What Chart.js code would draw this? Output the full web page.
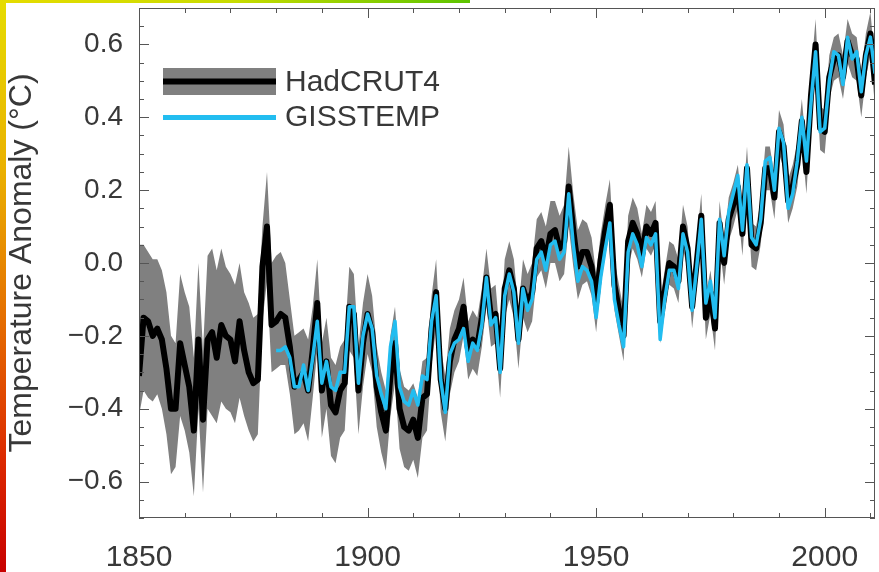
<!DOCTYPE html>
<html>
<head>
<meta charset="utf-8">
<script src="https://cdn.jsdelivr.net/npm/chart.js@4.4.1/dist/chart.umd.min.js"></script>
<style>
  html, body { margin: 0; padding: 0; background: #fff; }
  canvas { display: block; filter: blur(0.5px); }
</style>
</head>
<body>
<canvas id="chart" width="879" height="572"></canvas>
<script>
// annual global temperature anomalies
const firstYear = 1850;
const gissFirstYear = 1880;

const hadcrut = [
  -0.31, -0.15, -0.16, -0.20, -0.18, -0.21, -0.29, -0.40, -0.40, -0.22, // 1850
  -0.28, -0.34, -0.46, -0.21, -0.43, -0.21, -0.19, -0.26, -0.17, -0.20, // 1860
  -0.21, -0.27, -0.16, -0.24, -0.30, -0.33, -0.32, -0.01,  0.10, -0.17, // 1870
  -0.16, -0.14, -0.15, -0.23, -0.34, -0.32, -0.30, -0.35, -0.24, -0.11, // 1880
  -0.35, -0.27, -0.39, -0.41, -0.35, -0.33, -0.12, -0.14, -0.35, -0.22, // 1890
  -0.14, -0.19, -0.34, -0.41, -0.46, -0.31, -0.22, -0.40, -0.45, -0.46, // 1900
  -0.43, -0.48, -0.37, -0.36, -0.18, -0.08, -0.32, -0.40, -0.27, -0.21, // 1910
  -0.18, -0.12, -0.24, -0.21, -0.23, -0.15, -0.04, -0.15, -0.14, -0.29, // 1920
  -0.07, -0.02, -0.07, -0.21, -0.07, -0.11, -0.08,  0.04,  0.06,  0.01, // 1930
   0.08,  0.09,  0.04,  0.06,  0.21,  0.09, -0.01,  0.03,  0.03, -0.01, // 1940
  -0.11,  0.01,  0.09,  0.16, -0.06, -0.13, -0.20,  0.06,  0.11,  0.08, // 1950
   0.02,  0.10,  0.08,  0.11, -0.16, -0.08,  0.00, -0.01, -0.05,  0.10, // 1960
   0.04, -0.12,  0.00,  0.13, -0.15, -0.08, -0.18,  0.11,  0.00,  0.12, // 1970
   0.16,  0.21,  0.08,  0.26,  0.05,  0.04,  0.11,  0.26,  0.26,  0.18, // 1980
   0.36,  0.32,  0.17,  0.21,  0.27,  0.39,  0.25,  0.46,  0.60,  0.37, // 1990
   0.36,  0.51,  0.56,  0.57,  0.51,  0.61,  0.57,  0.56,  0.46,  0.57, // 2000
   0.63,  0.49                                                          // 2010
];

const hadcrutUpper = [
   0.05,  0.05,  0.03,  0.01,  0.01, -0.02, -0.08, -0.20, -0.22, -0.03,
  -0.08, -0.12, -0.26,  0.00, -0.24,  0.02,  0.04, -0.02,  0.04, -0.01,
  -0.03, -0.06,  0.00, -0.08, -0.11, -0.15, -0.14,  0.10,  0.25,  0.00,
   0.02,  0.03,  0.00, -0.10, -0.20, -0.19, -0.18, -0.21, -0.12,  0.01,
  -0.22, -0.15, -0.26, -0.28, -0.23, -0.21, -0.01, -0.03, -0.23, -0.11,
  -0.03, -0.09, -0.23, -0.30, -0.35, -0.20, -0.12, -0.29, -0.34, -0.35,
  -0.33, -0.37, -0.27, -0.26, -0.09,  0.01, -0.23, -0.31, -0.18, -0.13,
  -0.10, -0.04, -0.16, -0.13, -0.15, -0.07,  0.04, -0.07, -0.06, -0.21,
   0.01,  0.06,  0.01, -0.13,  0.01, -0.03,  0.00,  0.12,  0.14,  0.10,
   0.17,  0.17,  0.13,  0.16,  0.32,  0.19,  0.09,  0.12,  0.11,  0.07,
  -0.03,  0.08,  0.16,  0.23,  0.01, -0.06, -0.13,  0.13,  0.18,  0.15,
   0.08,  0.16,  0.14,  0.17, -0.10, -0.02,  0.06,  0.05,  0.01,  0.16,
   0.10, -0.06,  0.06,  0.19, -0.09, -0.02, -0.12,  0.17,  0.06,  0.18,
   0.22,  0.27,  0.14,  0.32,  0.11,  0.10,  0.17,  0.32,  0.32,  0.24,
   0.42,  0.38,  0.23,  0.27,  0.33,  0.45,  0.31,  0.52,  0.67,  0.43,
   0.42,  0.57,  0.62,  0.63,  0.57,  0.67,  0.63,  0.62,  0.52,  0.63,
   0.69,  0.55
];

const hadcrutLower = [
  -0.42, -0.35, -0.37, -0.38, -0.36, -0.40, -0.47, -0.58, -0.56, -0.42,
  -0.46, -0.52, -0.64, -0.40, -0.63, -0.40, -0.42, -0.44, -0.38, -0.40,
  -0.41, -0.44, -0.37, -0.42, -0.46, -0.49, -0.47, -0.16, -0.05, -0.30,
  -0.29, -0.28, -0.28, -0.36, -0.47, -0.46, -0.44, -0.49, -0.37, -0.24,
  -0.48, -0.40, -0.53, -0.55, -0.48, -0.46, -0.24, -0.26, -0.47, -0.34,
  -0.25, -0.30, -0.45, -0.52, -0.57, -0.42, -0.33, -0.51, -0.56, -0.57,
  -0.54, -0.59, -0.48, -0.46, -0.28, -0.18, -0.41, -0.49, -0.36, -0.30,
  -0.27, -0.20, -0.32, -0.29, -0.31, -0.23, -0.12, -0.23, -0.22, -0.37,
  -0.15, -0.10, -0.15, -0.29, -0.15, -0.19, -0.16, -0.04, -0.02, -0.07,
   0.00,  0.00, -0.05, -0.03,  0.10, -0.01, -0.10, -0.06, -0.05, -0.09,
  -0.19, -0.06,  0.02,  0.09, -0.13, -0.20, -0.27, -0.01,  0.04,  0.01,
  -0.04,  0.04,  0.02,  0.05, -0.22, -0.14, -0.06, -0.07, -0.11,  0.04,
  -0.02, -0.18, -0.06,  0.07, -0.21, -0.14, -0.24,  0.05, -0.06,  0.06,
   0.10,  0.15,  0.02,  0.20, -0.01, -0.02,  0.05,  0.20,  0.20,  0.12,
   0.30,  0.26,  0.11,  0.15,  0.21,  0.33,  0.19,  0.40,  0.54,  0.31,
   0.30,  0.45,  0.50,  0.51,  0.45,  0.55,  0.51,  0.50,  0.40,  0.51,
   0.57,  0.43
];

const gisstemp = [
  -0.24, -0.24, -0.23, -0.26, -0.34, -0.34, -0.28, -0.35, -0.26, -0.16, // 1880
  -0.33, -0.27, -0.34, -0.35, -0.30, -0.30, -0.12, -0.12, -0.33, -0.20, // 1890
  -0.14, -0.18, -0.31, -0.36, -0.40, -0.23, -0.16, -0.34, -0.38, -0.39, // 1900
  -0.35, -0.39, -0.31, -0.32, -0.16, -0.09, -0.32, -0.41, -0.25, -0.22, // 1910
  -0.21, -0.18, -0.27, -0.22, -0.24, -0.17, -0.04, -0.17, -0.15, -0.30, // 1920
  -0.09, -0.03, -0.08, -0.22, -0.07, -0.13, -0.10,  0.01,  0.03, -0.02, // 1930
   0.05,  0.06,  0.01,  0.03,  0.19,  0.05, -0.05, -0.01, -0.02, -0.05, // 1940
  -0.15, -0.04,  0.04,  0.11, -0.10, -0.17, -0.23,  0.03,  0.08,  0.05, // 1950
  -0.01,  0.07,  0.05,  0.08, -0.21, -0.10, -0.02, -0.02, -0.07,  0.08, // 1960
   0.03, -0.13, -0.01,  0.12, -0.11, -0.05, -0.15,  0.12,  0.02,  0.14, // 1970
   0.19,  0.24,  0.09,  0.27,  0.07,  0.05,  0.12,  0.28,  0.29,  0.20, // 1980
   0.37,  0.33,  0.15,  0.19,  0.28,  0.40,  0.28,  0.44,  0.58,  0.36, // 1990
   0.37,  0.50,  0.58,  0.57,  0.49,  0.62,  0.56,  0.58,  0.47,  0.57, // 2000
   0.62,  0.52                                                          // 2010
];

const xTickLabels = [1850, 1900, 1950, 2000];
const yTickLabels = [-0.6, -0.4, -0.2, 0.0, 0.2, 0.4, 0.6];
const legendLabels = ['HadCRUT4', 'GISSTEMP'];

const toPoints = (arr, start) => arr.map((v, i) => ({ x: start + i, y: v }));

const FONT = "'Liberation Sans', Arial, Helvetica, sans-serif";
const TEXT = '#383838';
const BAND = '#808080';
const CYAN = '#22bdf0';

// yellow/red strips along the left and top edges, white page
const background = {
  id: 'background',
  beforeDraw(chart) {
    const ctx = chart.ctx;
    ctx.save();
    ctx.fillStyle = '#fff';
    ctx.fillRect(0, 0, chart.width, chart.height);
    let g = ctx.createLinearGradient(0, 0, 0, chart.height);
    g.addColorStop(0, '#e6dc00');
    g.addColorStop(0.3, '#eab000');
    g.addColorStop(0.55, '#e57000');
    g.addColorStop(0.8, '#dc2a00');
    g.addColorStop(1, '#c80000');
    ctx.fillStyle = g;
    ctx.fillRect(0, 0, 6, chart.height);
    g = ctx.createLinearGradient(0, 0, 470, 0);
    g.addColorStop(0, '#e6dc00');
    g.addColorStop(0.5, '#c8dc00');
    g.addColorStop(1, '#5cc400');
    ctx.fillStyle = g;
    ctx.fillRect(0, 0, 470, 3);
    ctx.restore();
  }
};

// box round the plot with inward ticks on all four sides
const frame = {
  id: 'frame',
  afterDatasetsDraw(chart) {
    const { ctx, chartArea: a, scales: { x, y } } = chart;
    ctx.save();
    ctx.strokeStyle = '#555';
    ctx.lineWidth = 1;
    ctx.strokeRect(Math.round(a.left) + 0.5, Math.round(a.top) + 0.5,
                   Math.round(a.width) - 1, Math.round(a.height) - 1);
    ctx.beginPath();
    for (let yr = 1850; yr <= x.max; yr += 10) {
      const px = Math.round(x.getPixelForValue(yr)) + 0.5;
      const len = yr % 50 === 0 ? 10 : 5;
      ctx.moveTo(px, a.bottom); ctx.lineTo(px, a.bottom - len);
      ctx.moveTo(px, a.top); ctx.lineTo(px, a.top + len);
    }
    for (let k = -14; k <= 14; k++) {
      const v = k * 0.05;
      const py = Math.round(y.getPixelForValue(v)) + 0.5;
      const len = (k + 14) % 4 === 2 ? 10 : 5;
      ctx.moveTo(a.left, py); ctx.lineTo(a.left + len, py);
      ctx.moveTo(a.right, py); ctx.lineTo(a.right - len, py);
    }
    ctx.stroke();
    ctx.restore();
  }
};

const legendBox = {
  id: 'legendBox',
  afterDraw(chart) {
    const ctx = chart.ctx;
    ctx.save();
    ctx.fillStyle = BAND;
    ctx.fillRect(163, 68, 113, 27);
    ctx.lineCap = 'butt';
    ctx.strokeStyle = '#000';
    ctx.lineWidth = 6;
    ctx.beginPath(); ctx.moveTo(163, 81.5); ctx.lineTo(276, 81.5); ctx.stroke();
    ctx.strokeStyle = CYAN;
    ctx.lineWidth = 5;
    ctx.beginPath(); ctx.moveTo(163, 117.5); ctx.lineTo(276, 117.5); ctx.stroke();
    ctx.fillStyle = TEXT;
    ctx.font = '30px ' + FONT;
    ctx.textBaseline = 'middle';
    ctx.fillText(legendLabels[0], 285, 83);
    ctx.fillText(legendLabels[1], 285, 118);
    ctx.restore();
  }
};

new Chart(document.getElementById('chart'), {
  type: 'line',
  data: {
    datasets: [
      {
        label: 'lower',
        data: toPoints(hadcrutLower, firstYear),
        borderWidth: 0,
        pointRadius: 0,
        fill: false,
        order: 4
      },
      {
        label: 'upper',
        data: toPoints(hadcrutUpper, firstYear),
        borderWidth: 0,
        pointRadius: 0,
        backgroundColor: BAND,
        fill: '-1',
        order: 3
      },
      {
        label: legendLabels[0],
        data: toPoints(hadcrut, firstYear),
        borderColor: '#000',
        borderWidth: 6,
        borderJoinStyle: 'round',
        pointRadius: 0,
        fill: false,
        order: 2
      },
      {
        label: legendLabels[1],
        data: toPoints(gisstemp, gissFirstYear),
        borderColor: CYAN,
        borderWidth: 3.5,
        borderJoinStyle: 'round',
        pointRadius: 0,
        fill: false,
        order: 1
      }
    ]
  },
  options: {
    responsive: false,
    animation: false,
    devicePixelRatio: 1,
    layout: { padding: { left: 0, right: 4, top: 8, bottom: 0 } },
    plugins: {
      legend: { display: false },
      tooltip: { enabled: false }
    },
    elements: { line: { tension: 0 } },
    scales: {
      x: {
        type: 'linear',
        min: 1850,
        max: 2011,
        grid: { display: false },
        border: { display: false },
        afterBuildTicks: s => { s.ticks = xTickLabels.map(v => ({ value: v })); },
        afterFit: s => { s.height = 54; s.paddingLeft = 0; s.paddingRight = 0; },
        ticks: {
          color: TEXT,
          padding: 14,
          maxRotation: 0,
          font: { family: FONT, size: 30 },
          callback: v => String(v)
        }
      },
      y: {
        min: -0.7,
        max: 0.7,
        grid: { display: false },
        border: { display: false },
        afterBuildTicks: s => { s.ticks = yTickLabels.map(v => ({ value: v })); },
        afterFit: s => { s.width = 139; s.paddingTop = 0; s.paddingBottom = 0; },
        ticks: {
          color: TEXT,
          padding: 8,
          font: { family: FONT, size: 28 },
          callback: v => (v < -0.001 ? '\u2212' : '') + Math.abs(v).toFixed(1)
        },
        title: {
          display: true,
          text: 'Temperature Anomaly (\u00B0C)',
          color: TEXT,
          font: { family: FONT, size: 32 },
          padding: { top: 3, bottom: 0 }
        }
      }
    }
  },
  plugins: [background, frame, legendBox]
});
</script>
</body>
</html>
